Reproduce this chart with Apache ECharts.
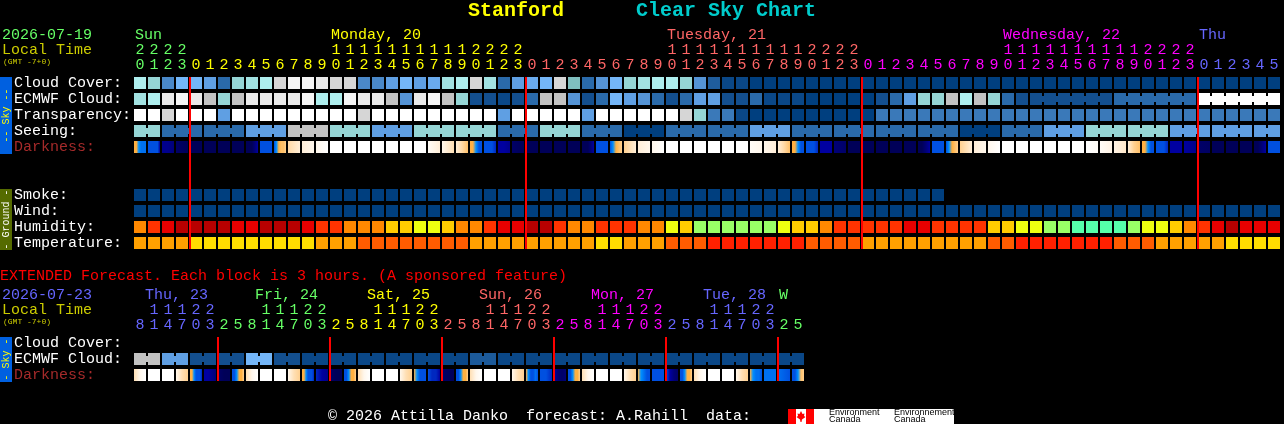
<!DOCTYPE html>
<html><head><meta charset="utf-8">
<style>html,body{margin:0;padding:0;background:#000;overflow:hidden}#c{width:1284px;height:424px}</style>
<script src="https://cdn.jsdelivr.net/npm/echarts@6/dist/echarts.min.js"></script>
</head><body><div id="c"></div>
<script>
// ---------- data: levels ----------
const hourTens  = ['2','2','2','2','','','','','','','','','','','1','1','1','1','1','1','1','1','1','1','2','2','2','2','','','','','','','','','','','1','1','1','1','1','1','1','1','1','1','2','2','2','2','','','','','','','','','','','1','1','1','1','1','1','1','1','1','1','2','2','2','2','','','','','',''];
const hourUnits = ['0','1','2','3','0','1','2','3','4','5','6','7','8','9','0','1','2','3','4','5','6','7','8','9','0','1','2','3','0','1','2','3','4','5','6','7','8','9','0','1','2','3','4','5','6','7','8','9','0','1','2','3','0','1','2','3','4','5','6','7','8','9','0','1','2','3','4','5','6','7','8','9','0','1','2','3','0','1','2','3','4','5'];
const rowLabels = ['Cloud Cover:','ECMWF Cloud:','Transparency:','Seeing:','Darkness:','','','Smoke:','Wind:','Humidity:','Temperature:'];
const cloudCover = [8,7,3,5,5,4,2,7,7.5,8,9.5,10.5,10.5,10,9.5,9.5,3,3,4,5,4,4.5,7.5,8,9.5,7.5,2,4,4.5,5,9.5,6,2,3.5,5,7,7.5,8,8,7,3.5,1.5,0.5,0.5,0,0,0,0,0,0,0,0,0,0,0,0,0,0,0,0,0,0,0,0,0,0,0,0,0,0,0,0,0,0,0,0,0,0,0,0,0,0];
const ecmwfCloud = [7.5,8,10,10.5,10,9,7,9,10,10,10,10,10.5,8,8,10.5,10,10,9,3.5,10,10.5,9,7,1,1,0.5,1,2,9,9,3.5,1,2,5,4,3.5,2,1,2,4,4,1,1,2,0.5,0.5,0.5,0,0,0,0,0,1,2,4,7,7,9,8,9,7,2,1,1,1,1,1,1,1,2,2,2,2,2,2,11,11,11,11,11,11];
const ecmwfJoins = [64,65,66,67,68,70,71,72,73,74,76,77,78,79,80];
const transparency = [11,11,9.5,11,11,11,4,11,11,11,11,11,11,11,11,11,9.5,11,11,11,11,11,11,11,11,11,4,11,11,11,11,11,4,11,11,11,11,11,11,9.5,7,2.5,2.5,0.5,0,0,0,0,0,0,0,0,0,2.5,2.5,2.5,2.5,2.5,2.5,2.5,2.5,2.5,2.5,2.5,2.5,2.5,2.5,2.5,2.5,2.5,2.5,2.5,2.5,2.5,2.5,2.5,2.5,2.5,2.5,2.5,2.5,2.5];
const seeing = [7,7,2,2,2,2,2,2,4,4,4,9,9,9,7,7,7,4,4,4,7,7,7,7,7,7,2,2,2,7,7,7,2,2,2,0,0,0,2,2,2,2,2,2,4,4,4,2,2,2,2,2,2,2,2,2,2,2,2,0,0,0,2,2,2,4,4,4,7,7,7,7,7,7,4,4,4,4,4,4,4,4];
const seeingGroupStarts = [0,2,5,8,11,14,17,20,23,26,29,32,35,38,41,44,47,50,53,56,59,62,65,68,71,74,77,80];
const darkness = [[5,5,4,3.5,3.5,3.5],[3,3,3,3,3,2],[1.5,1.5,1],[0.5,0],[0],[0],[0],[0],[0,0,0,1,2],[3],[3,4,5,5.5,5.5,6],[6.3,7],[7,7.5],[7.5,8],[8],[8],[8],[8],[8],[8],[8],[7.8,7],[7.5,6.5],[7,6.3,5.5],[5,5,4,3,3],[3,3,3,2.5],[2,2,1.5],[0.5,0],[0],[0],[0],[0],[0,0,0,1,2],[3],[3,4,5,5.5,6],[6,7],[7,7.5],[7.5,8],[8],[8],[8],[8],[8],[8],[7.8,7.5],[7.5,7],[7,6.3,5.5],[5,5,4,3,3],[3,3,3,2.5],[2,2],[1,0.5],[0],[0],[0],[0],[0],[0,0,1,2],[3],[3,4,5,5.5,6],[6,7],[7,7.5],[7.5,8],[8],[8],[8],[8],[8],[8],[8,7.8],[7.8,7.3],[7.3,6.8],[7,6,5.5],[5,5,4,3,3],[3,3,3,2.5],[2,2],[2,1.5],[0.5,0.3],[0],[0],[0],[0,0,1,2],[3]];
const smoke = [0,0,0,0,0,0,0,0,0,0,0,0,0,0,0,0,0,0,0,0,0,0,0,0,0,0,0,0,0,0,0,0,0,0,0,0,0,0,0,0,0,0,0,0,0,0,0,0,0,0,0,0,0,0,0,0,0,0];
const wind = [0,0,0,0,0,0,0,0,0,0,0,0,0,0,0,0,0,0,0,0,0,0,0,0,0,0,0,0,0,0,0,0,0,0,0,0,0,0,0,0,0,0,0,0,0,0,0,0,0,0,0,0,0,0,0,0,0,0,0,0,0,0,0,0,0,0,0,0,0,0,0,0,0,0,0,0,0,0,0,0,0,0];
const humidity = [3,2,1,0,0,0,0,1,1,0,0,0,1,2,2,3,3,3,4,4,5,5,4,3,3,2,1,1,0,0,2,3,3,2,2,2,3,3,5,4,6,6,6,6,6,6,5,4,4,3,2,2,2,2,2,1,1,2,2,2,2,4,4,5,5,6,6,7,7,7,7,6,5,5,4,3,2,1,0,1,1,1];
const temperature = [2,2,2,2,3,3,3,3,3,3,3,3,3,2,2,2,1,1,1,1,1,1,1,1,2,2,2,2,2,2,2,2,2,3,3,2,2,2,1,1,1,0,0,0,0,0,0,0,1,1,1,1,2,2,2,2,2,2,2,2,2,1,1,0,0,0,0,0,0,0,1,1,1,2,2,2,2,2,3,3,3,3];
const midnights = [4,28,52,76];

const extTens  = ['','1','1','1','2','2','','','','1','1','1','2','2','','','','1','1','1','2','2','','','','1','1','1','2','2','','','','1','1','1','2','2','','','','1','1','1','2','2','',''];
const extUnits = ['8','1','4','7','0','3','2','5','8','1','4','7','0','3','2','5','8','1','4','7','0','3','2','5','8','1','4','7','0','3','2','5','8','1','4','7','0','3','2','5','8','1','4','7','0','3','2','5'];
const extRowLabels = ['Cloud Cover:','ECMWF Cloud:','Darkness:'];
const extEcmwf = [9,9,4,4,1,1,1,1,5,5,1,1,0.5,0.5,0.5,0.5,0.5,0.5,0.5,0.5,0.5,0.5,0.5,0.5,1.4,1.4,0.5,0.5,0.5,0.5,0.5,0.5,0.5,0.5,0.5,0.5,0.5,0.5,0.5,0.5,0.5,0.5,0.5,0.5,0.5,0.5,0.5,0.5];
const extDarkness = [[6.5,7.5,8],[8],[8],[7.5,6.5,6],[5,5,4,3,3,3,2.5],[2,2,1.5,1],[0.5,0,0],[3,3,4,5,5,6],[6.5,7.5,8],[8],[8],[7.5,6.5,6],[5,5,4,3,3,3,2.5],[2.5,2,1.5],[0.5,0,0],[3,3,4,5,5,6],[6.5,7.5,8],[8],[8],[7.5,6.5,6],[5,4,3,3,3],[3,2.5,2.5,2],[0.5,0],[3,3,4,5,5,6],[6.5,7.5,8],[8],[8],[7.5,6.5,6],[5,4,3,3,3.5,3],[3,3,2.5],[2,1,0.5,1],[3,3,4,5,5,6],[6.5,7.5,8],[8],[8],[7.5,6.5,6],[5,4,3.5,3,3],[3],[3,2,1,0.5],[3,3,4,5,5,6],[6.5,7.5,8],[8],[8],[7.5,6.5,6],[5,4,3.5,3.5,3],[3.5,3.5],[3.5,3],[3,3,4,5.5,6]];
const extMidnights = [6,14,22,30,38,46];

const dayLabels = [[0,'Sun'],[14,'Monday, 20'],[38,'Tuesday, 21'],[62,'Wednesday, 22'],[76,'Thu']];
const extDayLabels = ['Thu, 23','Fri, 24','Sat, 25','Sun, 26','Mon, 27','Tue, 28','W'];

// ---------- palettes ----------
const skyColors = ['#003f7f','#134f8f','#2a6aaa','#4a88c8','#5f9fe3','#74b6f8','#7fbfbf','#95d5d5','#aeeeee','#c2c2c2','#eaeaea','#ffffff'];
const darkColors = ['#000058','#000078','#0000a0','#0050e0','#0090ff','#ffb040','#ffd090','#ffeed8','#ffffff'];
const humidityColors = ['#b80000','#e80000','#ff3300','#ff8800','#ffcc00','#eeff10','#99ff66','#55ffaa'];
const tempColors = ['#ff2000','#ff5c00','#ffa000','#ffdd00'];
const green='#66ff66', yellow='#ffff00', pink='#ff6666', magenta='#ff00ff', blue='#6666ff';
const topDayColors = [green,yellow,pink,magenta,blue];
const extDayColors = [blue,green,yellow,pink,magenta,blue,green];

const MONO='"Liberation Mono",monospace';
function hex(c){return [1,3,5].map(k=>parseInt(c.substr(k,2),16));}
function tone(pal,v){const a=Math.floor(v),b=Math.min(a+1,pal.length-1),t=v-a,A=hex(pal[a]),B=hex(pal[b]);
  return 'rgb('+A.map((x,k)=>Math.round(x+(B[k]-x)*t)).join(',')+')';}
function topColor(i){return topDayColors[i<4?0:i<28?1:i<52?2:i<76?3:4];}
function extColor(i){return i<6?blue:i<14?green:i<22?yellow:i<30?pink:i<38?magenta:i<46?blue:green;}

// ---------- cell renderers ----------
function cellSeries(name,gridIdx,rowIdx,values,pal,joinFn){
  return {name,type:'custom',xAxisIndex:gridIdx?2:0,yAxisIndex:gridIdx,clip:false,silent:true,
    data:values.map((v,i)=>[i,rowIdx,i]),
    renderItem(p,api){
      const i=api.value(0),c=api.coord([i,api.value(1)]),v=values[i];
      const kids=[];let fill;
      if(Array.isArray(v)){
        fill=v.length===1?tone(pal,v[0]):new echarts.graphic.LinearGradient(0,0,1,0,
          v.map((l,k)=>({offset:k/(v.length-1),color:tone(pal,l)})));
      } else fill=tone(pal,v);
      kids.push({type:'rect',shape:{x:c[0]-6,y:c[1]-6,width:12,height:12},style:{fill}});
      if(joinFn&&joinFn(i))kids.push({type:'rect',shape:{x:c[0]+6,y:c[1]-3,width:2,height:6},style:{fill}});
      return {type:'group',children:kids};
    }};
}
function midnightSeries(name,gridIdx,lastRow,idx){
  return {name,type:'custom',xAxisIndex:gridIdx?2:0,yAxisIndex:gridIdx,clip:false,silent:true,z:10,
    data:idx.map(i=>[i,0]),
    renderItem(p,api){
      const a=api.coord([api.value(0),0]),b=api.coord([api.value(0),lastRow]);
      return {type:'rect',shape:{x:a[0]-7,y:a[1]-6,width:2,height:b[1]-a[1]+12},style:{fill:'#ff0000'}};
    }};
}
function dayLabelSeries(name,gridIdx,items,colors,yOff){
  return {name,type:'custom',xAxisIndex:gridIdx?2:0,yAxisIndex:gridIdx,clip:false,silent:true,
    data:items.map(d=>[d[0],0]),
    renderItem(p,api){
      const c=api.coord([api.value(0),0]),d=items[p.dataIndex];
      return {type:'text',style:{x:c[0]-5+(d[2]||0),y:c[1]+yOff,text:d[1],fill:colors[p.dataIndex],font:'15px '+MONO,textAlign:'left',textVerticalAlign:'middle'}};
    }};
}
const seeingJoin=i=>!seeingGroupStarts.includes(i+1)&&i<81;
const ecmwfJoin=i=>ecmwfJoins.includes(i);
const extJoin=i=>i%2===0&&i<47;

function hourAxis(gridIndex,data,offset,colorFn){
  return {type:'category',gridIndex,data,position:'top',offset,boundaryGap:true,
    axisLine:{show:false},axisTick:{show:false},splitLine:{show:false},
    axisLabel:{show:true,interval:0,margin:2,hideOverlap:false,fontFamily:'Liberation Mono',fontSize:15,color:(v,i)=>colorFn(i)}};
}
function rowAxis(gridIndex,data){
  return {type:'category',gridIndex,data,inverse:true,boundaryGap:true,
    axisLine:{show:false},axisTick:{show:false},splitLine:{show:false},
    axisLabel:{show:true,interval:0,margin:119,align:'left',padding:[0,0,5,0],fontFamily:'Liberation Mono',fontSize:15,
      color:v=>v==='Darkness:'?'#a52a2a':'#ffffff'}};
}
function txt(x,y,s,fill,size,extra){return Object.assign({type:'text',x,y,silent:true,z:20,
  style:{text:s,fill,fontFamily:'Liberation Mono',fontSize:size,textVerticalAlign:'middle',textAlign:'left'}},extra||{});}
function strip(y,h,fill,s,col){return [
  {type:'rect',silent:true,z:19,shape:{x:0,y,width:12,height:h},style:{fill}},
  {type:'text',silent:true,z:20,x:6,y:y+h/2,rotation:Math.PI/2,
   style:{text:s,fill:col,fontFamily:'Liberation Mono',fontSize:10,textAlign:'center',textVerticalAlign:'middle'}}];}

const option={
  backgroundColor:'#000',animation:false,
  grid:[{left:133,top:75,width:14*82,height:16*11,containLabel:false},
        {left:133,top:335,width:14*48,height:16*3,containLabel:false}],
  xAxis:[hourAxis(0,hourUnits,0,topColor),hourAxis(0,hourTens,15,topColor),
         hourAxis(1,extUnits,0,extColor),hourAxis(1,extTens,15,extColor)],
  yAxis:[rowAxis(0,rowLabels),rowAxis(1,extRowLabels)],
  series:[
    cellSeries('Cloud Cover',0,0,cloudCover,skyColors),
    cellSeries('ECMWF Cloud',0,1,ecmwfCloud,skyColors,ecmwfJoin),
    cellSeries('Transparency',0,2,transparency,skyColors),
    cellSeries('Seeing',0,3,seeing,skyColors,seeingJoin),
    cellSeries('Darkness',0,4,darkness,darkColors),
    cellSeries('Smoke',0,7,smoke,skyColors),
    cellSeries('Wind',0,8,wind,skyColors),
    cellSeries('Humidity',0,9,humidity,humidityColors),
    cellSeries('Temperature',0,10,temperature,tempColors),
    midnightSeries('Midnight',0,10,midnights),
    dayLabelSeries('Days',0,dayLabels,topDayColors,-48),
    cellSeries('Ext ECMWF Cloud',1,1,extEcmwf,skyColors,extJoin),
    cellSeries('Ext Darkness',1,2,extDarkness,darkColors),
    midnightSeries('Ext Midnight',1,2,extMidnights),
    dayLabelSeries('Ext Days',1,[[1,extDayLabels[0],-4],[9,extDayLabels[1],-6],[17,extDayLabels[2],-6],[25,extDayLabels[3],-6],[33,extDayLabels[4],-6],[41,extDayLabels[5],-6],[46,extDayLabels[6],0]],extDayColors,-48)
  ],
  graphic:{elements:[
    {type:'text',silent:true,x:468,y:11,style:{text:'Stanford',fill:'#ffff00',fontFamily:'Liberation Mono',fontWeight:'bold',fontSize:20,textVerticalAlign:'middle'}},
    {type:'text',silent:true,x:636,y:11,style:{text:'Clear Sky Chart',fill:'#00cccc',fontFamily:'Liberation Mono',fontWeight:'bold',fontSize:20,textVerticalAlign:'middle'}},
    txt(2,35,'2026-07-19',green,15),
    txt(2,50,'Local Time','#cccc00',15),
    txt(3,62,'(GMT -7+0)','#cccc00',8),
    txt(0,276,'EXTENDED Forecast. Each block is 3 hours. (A sponsored feature)','#ff0000',15),
    txt(2,295,'2026-07-23',blue,15),
    txt(2,310,'Local Time','#cccc00',15),
    txt(3,322,'(GMT -7+0)','#cccc00',8),
    ...strip(77,77,'#0060e0','-- Sky --','#ffff00'),
    ...strip(189,61,'#556b00','- Ground -','#ffffff'),
    ...strip(337,45,'#0060e0','- Sky -','#ffff00'),
    txt(328,416,'© 2026 Attilla Danko  forecast: A.Rahill  data:','#ffffff',15),
    {type:'rect',silent:true,shape:{x:788,y:409,width:166,height:15},style:{fill:'#ffffff'}},
    {type:'rect',silent:true,shape:{x:788,y:409,width:8,height:15},style:{fill:'#ff0000'}},
    {type:'rect',silent:true,shape:{x:806,y:409,width:8,height:15},style:{fill:'#ff0000'}},
    {type:'polygon',silent:true,shape:{points:[[801,411],[802.5,414],[804.5,413.5],[804,416],[805.5,417],[802,419.5],[801.5,422],[800.5,422],[800,419.5],[796.5,417],[798,416],[797.5,413.5],[799.5,414]]},style:{fill:'#ff0000'}},
    {type:'text',silent:true,x:829,y:413,style:{text:'Environment',fill:'#000',fontFamily:'Liberation Sans',fontSize:9,textVerticalAlign:'middle'}},
    {type:'text',silent:true,x:829,y:420,style:{text:'Canada',fill:'#000',fontFamily:'Liberation Sans',fontSize:9,textVerticalAlign:'middle'}},
    {type:'text',silent:true,x:894,y:413,style:{text:'Environnement',fill:'#000',fontFamily:'Liberation Sans',fontSize:9,textVerticalAlign:'middle'}},
    {type:'text',silent:true,x:894,y:420,style:{text:'Canada',fill:'#000',fontFamily:'Liberation Sans',fontSize:9,textVerticalAlign:'middle'}}
  ]}
};
const chart=echarts.init(document.getElementById('c'),null,{renderer:'canvas',width:1284,height:424});
chart.setOption(option);
</script></body></html>
